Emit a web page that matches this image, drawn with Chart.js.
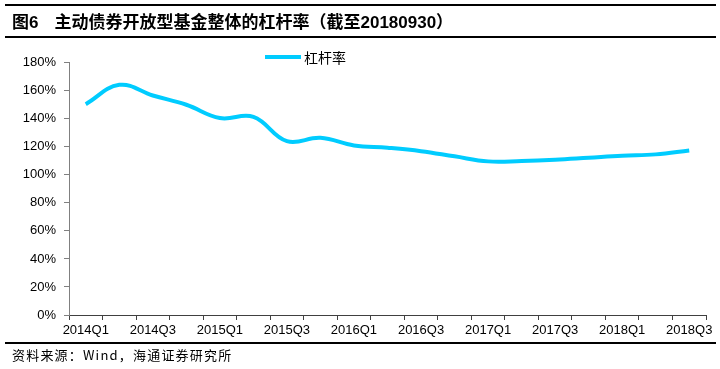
<!DOCTYPE html>
<html>
<head>
<meta charset="utf-8">
<script src="https://cdn.jsdelivr.net/npm/chart.js@4.4.0/dist/chart.umd.min.js"></script>
<style>
    body { margin: 0; background: #fff; }
    #wrap { position: relative; width: 720px; height: 369px; overflow: hidden; }
    #chart { position: absolute; left: 0; top: 0; }
    .rule { position: absolute; left: 5px; width: 711px; height: 0; border-top: 2px solid #000; }
    #title { position: absolute; left: 12px; top: 8px; font-family: "Noto Sans CJK SC", sans-serif; font-weight: bold; font-size: 17px; line-height: 26px; color: #000; white-space: nowrap; }
    #title .num { font-family: "Liberation Sans", Arial, sans-serif; }
    #title .gap { display: inline-block; width: 16px; }
    #source { position: absolute; left: 12px; top: 345px; font-family: "Noto Sans CJK SC", sans-serif; font-size: 13px; letter-spacing: 1.2px; line-height: 20px; color: #000; white-space: nowrap; }
    #legend { position: absolute; left: 265px; top: 47px; font-family: "Noto Sans CJK SC", sans-serif; font-size: 14px; line-height: 20px; white-space: nowrap; }
    #legend span.sw { display: inline-block; width: 36px; height: 4px; background: #00CCFF; vertical-align: middle; margin-right: 3px; position: relative; top: -2px; }
</style>
</head>
<body>
<div id="wrap">
    <canvas id="chart" width="720" height="369"></canvas>
    <div class="rule" style="top:4px"></div>
    <div id="title">图<span class="num">6</span><span class="gap"></span>主动债券开放型基金整体的杠杆率（截至<span class="num">20180930</span>）</div>
    <div class="rule" style="top:36px"></div>
    <div id="legend"><span class="sw"></span>杠杆率</div>
    <div class="rule" style="top:342px"></div>
    <div id="source">资料来源：Wind，海通证券研究所</div>
</div>
<script>
var quarters = ['2014Q1','2014Q2','2014Q3','2014Q4','2015Q1','2015Q2','2015Q3','2015Q4',
    '2016Q1','2016Q2','2016Q3','2016Q4','2017Q1','2017Q2','2017Q3','2017Q4',
    '2018Q1','2018Q2','2018Q3'];
var leverage = [150.4, 164.2, 156.6, 150.0, 140.5, 141.3, 124.0, 126.4,
    121.0, 119.3, 116.9, 113.2, 109.6, 109.9, 110.8, 112.2,
    113.6, 114.6, 117.4];
var yTicks = [0, 20, 40, 60, 80, 100, 120, 140, 160, 180];

var tickFont = { family: '"Liberation Sans", Arial, sans-serif', size: 13 };

new Chart(document.getElementById('chart'), {
    type: 'line',
    data: {
        labels: quarters,
        datasets: [{
            label: '杠杆率',
            data: leverage,
            borderColor: '#00CCFF',
            borderWidth: 4,
            pointRadius: 0,
            tension: 0.4,
            fill: false
        }]
    },
    options: {
        responsive: false,
        animation: false,
        layout: { padding: { top: 62.7, right: 14, bottom: 29, left: 0 } },
        plugins: { legend: { display: false }, tooltip: { enabled: false } },
        scales: {
            x: {
                offset: true,
                grid: { display: true, offset: true, drawOnChartArea: false, drawTicks: true, tickLength: 5, color: '#404040' },
                border: { display: true, color: '#404040', width: 1 },
                ticks: {
                    autoSkip: false, maxRotation: 0, padding: 3, color: '#000', font: tickFont,
                    callback: function (v, i) { return i % 2 === 0 ? quarters[i] : ''; }
                },
                afterFit: function (s) { s.height = 25; }
            },
            y: {
                min: 0, max: 180,
                afterBuildTicks: function (s) { s.ticks = yTicks.map(function (v) { return { value: v }; }); },
                grid: { display: true, drawOnChartArea: false, drawTicks: true, tickLength: 5, color: '#808080' },
                border: { display: true, color: '#808080', width: 1 },
                ticks: { padding: 8, color: '#000', font: tickFont, callback: function (v) { return v + '%'; } },
                afterFit: function (s) { s.width = 69; }
            }
        }
    }
});
</script>
</body>
</html>
